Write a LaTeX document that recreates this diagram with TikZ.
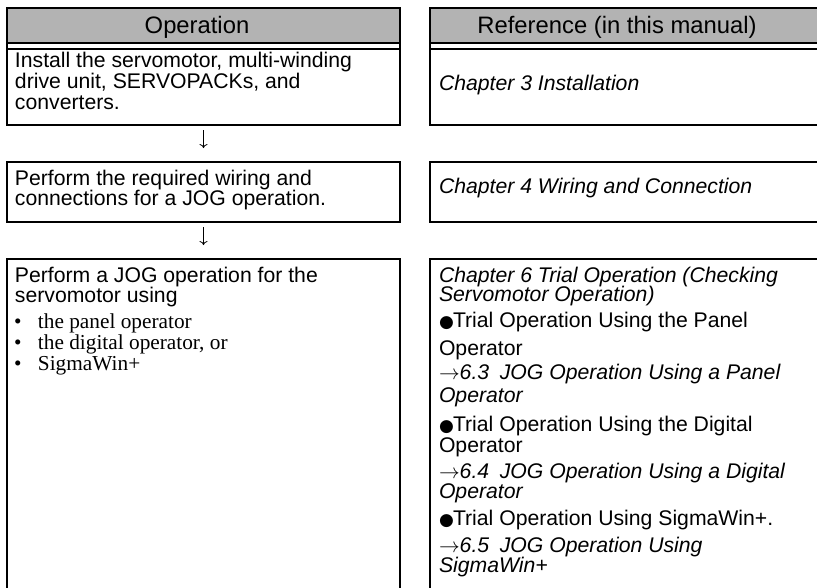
\documentclass[tikz,border=0pt]{standalone}
\usepackage{fontspec}
\setmainfont{Liberation Sans}
\newfontfamily\serifb{Liberation Serif}
\newfontfamily\dejavu{DejaVu Sans}
\usetikzlibrary{arrows.meta}
\definecolor{hdrgray}{RGB}{179,179,179}
\tikzset{
  cell/.style={draw, line width=2.2pt, anchor=north west, inner sep=0pt, outer sep=0pt},
  hdr/.style={cell, fill=hdrgray},
  htxt/.style={inner sep=0pt, outer sep=0pt, font=\fontsize{23.8}{24}\selectfont},
  txt/.style={anchor=base west, inner sep=0pt, outer sep=0pt, font=\fontsize{21.2}{21}\selectfont},
  itx/.style={anchor=base west, inner sep=0pt, outer sep=0pt, font=\fontsize{21.2}{21}\selectfont\itshape},
  btxt/.style={anchor=base west, inner sep=0pt, outer sep=0pt, font=\fontsize{21.3}{21}\serifb},
  flow/.style={-{To[length=4pt,width=8pt]}, line width=0.8pt, shorten <=5pt, shorten >=14pt}
}
\newcommand{\rarr}{$\rightarrow$}
\newcommand{\bul}{\makebox[24pt][l]{\textbullet}}
\newcommand{\bigdot}{\makebox[14pt][l]{\dejavu\fontsize{17}{17}\selectfont ●}}
\begin{document}
\begin{tikzpicture}[x=1pt,y=-1pt]
\useasboundingbox (0,0) rectangle (817,587);
\clip (0,0) rectangle (817,587);
% headers
\node[hdr, minimum width=393pt, minimum height=35pt] (hop) at (7,8) {};
\node[hdr, minimum width=390pt, minimum height=35pt] (href) at (430,8) {};
\node[htxt, anchor=base] (hopt) at (197,33) {Operation};
\node[htxt, anchor=base] (hreft) at (617,33) {Reference (in this manual)};
% row 1
\node[cell, minimum width=393pt, minimum height=76pt] (op1) at (7,49) {};
\node[cell, minimum width=390pt, minimum height=76pt] (ref1) at (430,49) {};
\draw[line width=2.2pt] (hop.south west) -- (op1.north west);
\draw[line width=2.2pt] (hop.south east) -- (op1.north east);
\draw[line width=2.2pt] (href.south west) -- (ref1.north west);
\node[txt] (op1a) at (15,67) {Install the servomotor, multi-winding};
\node[txt] (op1b) at (15,88) {drive unit, SERVOPACKs, and};
\node[txt] (op1c) at (15,109) {converters.};
\node[itx] (ref1a) at (439,90) {Chapter 3 Installation};
% row 2
\node[cell, minimum width=393pt, minimum height=60pt] (op2) at (7,162) {};
\node[cell, minimum width=390pt, minimum height=60pt] (ref2) at (430,162) {};
\node[txt] (op2a) at (15,185) {Perform the required wiring and};
\node[txt] (op2b) at (15,205) {connections for a JOG operation.};
\node[itx] (ref2a) at (439,193) {Chapter 4 Wiring and Connection};
% row 3
\node[cell, minimum width=393pt, minimum height=340pt] (op3) at (7,259) {};
\node[cell, minimum width=390pt, minimum height=340pt] (ref3) at (430,259) {};
\node[txt] (op3a) at (15,282) {Perform a JOG operation for the};
\node[txt] (op3b) at (15,302) {servomotor using};
\node[btxt] (op3c) at (14,328) {\bul the panel operator};
\node[btxt] (op3d) at (14,349) {\bul the digital operator, or};
\node[btxt] (op3e) at (14,370) {\bul SigmaWin+};
\node[itx] (r3a) at (439,282) {Chapter 6 Trial Operation (Checking};
\node[itx] (r3b) at (439,301) {Servomotor Operation)};
\node[txt] (r3c) at (439,327) {\bigdot Trial Operation Using the Panel};
\node[txt] (r3d) at (439,355) {Operator};
\node[itx] (r3e) at (439,379) {\rarr6.3\enspace JOG Operation Using a Panel};
\node[itx] (r3f) at (439,402) {Operator};
\node[txt] (r3g) at (439,431) {\bigdot Trial Operation Using the Digital};
\node[txt] (r3h) at (439,452) {Operator};
\node[itx] (r3i) at (439,478) {\rarr6.4\enspace JOG Operation Using a Digital};
\node[itx] (r3j) at (439,498) {Operator};
\node[txt] (r3k) at (439,525) {\bigdot Trial Operation Using SigmaWin+.};
\node[itx] (r3l) at (439,552) {\rarr6.5\enspace JOG Operation Using};
\node[itx] (r3m) at (439,572) {SigmaWin+};
% flow arrows
\draw[flow] (op1.south) -- (op2.north);
\draw[flow] (op2.south) -- (op3.north);
\end{tikzpicture}
\end{document}
